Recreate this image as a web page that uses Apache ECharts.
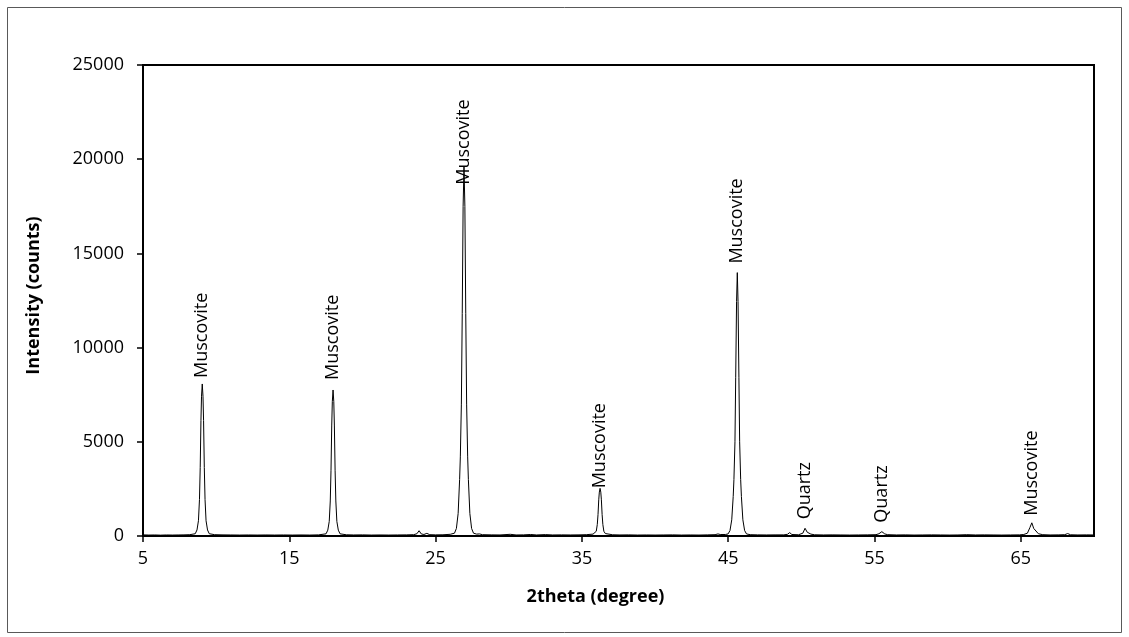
<!DOCTYPE html>
<html>
<head>
<meta charset="utf-8">
<title>XRD pattern</title>
<script src="https://cdn.jsdelivr.net/npm/echarts@6/dist/echarts.min.js"></script>
<style>
  html, body { margin: 0; padding: 0; background: #fff; }
  #chart { width: 1129px; height: 637px; }
</style>
</head>
<body>
<div id="chart"></div>
<script>
// Diffraction pattern: [2theta (degree), intensity (counts)]
const pattern = [
  [5.0, 60], [5.4, 50], [5.8, 55], [6.2, 45], [6.6, 55], [7.0, 50], [7.4, 55], [7.8, 60], [8.2, 70],
  [8.57, 120], [8.69, 320], [8.79, 810], [8.86, 1940], [8.91, 3630], [8.96, 6130], [9.0, 7420], [9.05, 8070],
  [9.1, 7420], [9.14, 6130], [9.19, 3630], [9.24, 1940], [9.31, 810], [9.41, 320], [9.53, 120], [9.9, 70],
  [10.4, 60], [11.0, 55], [11.6, 50], [12.2, 55], [12.8, 50], [13.4, 55], [14.0, 50], [14.6, 55],
  [15.2, 50], [15.8, 55], [16.4, 50], [17.0, 60],
  [17.51, 115], [17.63, 310], [17.73, 775], [17.8, 1860], [17.85, 3490], [17.9, 5890], [17.94, 7130], [17.99, 7750],
  [18.04, 7130], [18.08, 5890], [18.13, 3490], [18.18, 1860], [18.25, 775], [18.35, 310], [18.47, 115], [18.9, 65],
  [19.4, 55], [20.0, 60], [20.6, 50], [21.2, 55], [21.8, 50], [22.4, 55], [23.0, 60], [23.5, 70],
  [23.72, 120], [23.87, 280], [24.02, 110], [24.2, 80], [24.4, 140], [24.6, 70], [25.0, 60],
  [25.5, 65], [26.0, 90],
  [26.29, 150], [26.42, 400], [26.54, 1200], [26.64, 3000], [26.69, 4200], [26.76, 7000], [26.82, 11800], [26.88, 17500],
  [26.94, 19600],
  [27.0, 17500], [27.06, 11800], [27.12, 7000], [27.19, 4200], [27.24, 3000], [27.34, 1200], [27.46, 400], [27.59, 150],
  [27.8, 100], [28.0, 110], [28.2, 70],
  [28.8, 60], [29.4, 55], [30.1, 90], [30.5, 55], [31.0, 60], [31.5, 80], [31.9, 55], [32.5, 75],
  [33.0, 55], [33.6, 60], [34.2, 55], [34.8, 60], [35.3, 70],
  [35.76, 100], [35.88, 130], [35.98, 250], [36.05, 610], [36.1, 1140], [36.15, 1920], [36.19, 2330], [36.24, 2530],
  [36.29, 2330], [36.33, 1920], [36.38, 1140], [36.43, 610], [36.5, 250], [36.6, 130], [36.72, 90], [37.1, 65],
  [37.6, 55], [38.2, 60], [38.8, 50], [39.4, 55], [40.0, 50], [40.6, 55], [41.2, 60], [41.8, 50],
  [42.4, 55], [43.0, 50], [43.6, 60], [44.1, 70], [44.3, 110], [44.45, 80], [44.8, 80],
  [44.99, 110], [45.12, 290], [45.24, 860], [45.34, 2100], [45.39, 3000], [45.46, 5000], [45.51, 8400], [45.57, 12450],
  [45.62, 13980],
  [45.67, 12450], [45.73, 8400], [45.78, 5000], [45.85, 3000], [45.9, 2100], [46.0, 860], [46.12, 290], [46.25, 110],
  [46.5, 70], [47.0, 60], [47.6, 55], [48.2, 60], [48.8, 60], [49.05, 90], [49.2, 180], [49.35, 80], [49.8, 65],
  [50.1, 150], [50.25, 410], [50.4, 200], [50.5, 230], [50.65, 100], [50.9, 65],
  [51.5, 55], [52.1, 60], [52.7, 55], [53.3, 50], [53.9, 55], [54.5, 60], [55.1, 70],
  [55.3, 120], [55.5, 230], [55.7, 110], [55.9, 70],
  [56.5, 55], [57.1, 60], [57.7, 50], [58.3, 55], [58.9, 60], [59.5, 55], [60.1, 50], [60.7, 55],
  [61.3, 70], [61.9, 55], [62.5, 60], [63.1, 55], [63.7, 50], [64.3, 55], [64.9, 60], [65.2, 80],
  [65.45, 150], [65.62, 450], [65.75, 700], [65.88, 400], [66.0, 300], [66.2, 120], [66.5, 70],
  [67.0, 55], [67.6, 60], [68.0, 70], [68.2, 130], [68.4, 65], [68.9, 55], [69.5, 60], [70.0, 55]
];

// Phase identification at the peak maxima
const peakPositions = [9.05, 17.99, 26.94, 36.24, 45.62, 50.25, 55.5, 65.75];
const peakPhases = ['Muscovite', 'Muscovite', 'Muscovite', 'Muscovite', 'Muscovite', 'Quartz', 'Quartz', 'Muscovite'];

// Axis ticks
const xTicks = [5, 15, 25, 35, 45, 55, 65];
const yTicks = [0, 5000, 10000, 15000, 20000, 25000];

const FONT = 'Open Sans';

// Gap between each phase label and its peak (px); the tallest peak's label overlaps its tip
const labelGaps = [6, 10, -18, 0, 9, 9, 9, 7];

const peakPoints = peakPositions.map((x, i) => {
  const hit = pattern.find(p => p[0] === x);
  return {
    value: [x, hit ? hit[1] : 0],
    name: peakPhases[i],
    label: { distance: labelGaps[i] }
  };
});

const chart = echarts.init(document.getElementById('chart'), null, { renderer: 'canvas' });

chart.setOption({
  animation: false,
  backgroundColor: '#fff',
  graphic: [{
    type: 'rect',
    shape: { x: 7.5, y: 7.5, width: 1114, height: 625 },
    style: { fill: 'none', stroke: '#595959', lineWidth: 1 },
    silent: true
  }],
  grid: {
    left: 143, top: 65, right: 35, bottom: 101,
    show: true, borderColor: '#000', borderWidth: 2, backgroundColor: 'transparent'
  },
  xAxis: {
    type: 'value',
    min: 5, max: 70,
    name: '2theta (degree)',
    nameLocation: 'middle',
    nameGap: 52,
    nameTextStyle: { fontFamily: FONT, fontSize: 18, fontWeight: 'bold', color: '#000', padding: [0, 46, 0, 0] },
    axisLine: { show: true, onZero: false, lineStyle: { color: '#000', width: 2 } },
    axisTick: { show: true, customValues: xTicks, length: 6, lineStyle: { color: '#000', width: 1.5 } },
    axisLabel: { customValues: xTicks, margin: 14, fontFamily: FONT, fontSize: 18, color: '#000' },
    splitLine: { show: false }
  },
  yAxis: {
    type: 'value',
    min: 0, max: 25000, interval: 5000,
    name: 'Intensity (counts)',
    nameLocation: 'middle',
    nameGap: 100,
    nameRotate: 90,
    nameTextStyle: { fontFamily: FONT, fontSize: 18, fontWeight: 'bold', color: '#000', padding: [0, 0, 0, 10] },
    axisLine: { show: true, lineStyle: { color: '#000', width: 2 } },
    axisTick: { show: true, customValues: yTicks, length: 6, lineStyle: { color: '#000', width: 1.5 } },
    axisLabel: {
      customValues: yTicks, margin: 19, fontFamily: FONT, fontSize: 18, color: '#000',
      formatter: v => String(v)
    },
    splitLine: { show: false }
  },
  series: [
    {
      type: 'line',
      data: pattern,
      showSymbol: false,
      symbol: 'none',
      lineStyle: { color: '#000', width: 1 },
      z: 3
    },
    {
      type: 'scatter',
      data: peakPoints,
      symbol: 'circle',
      symbolSize: 0,
      itemStyle: { color: '#000' },
      label: {
        show: true,
        formatter: '{b}',
        position: 'top',
        rotate: 90,
        align: 'left',
        verticalAlign: 'middle',
        fontFamily: FONT,
        fontSize: 18,
        color: '#000',
        opacity: 1
      },
      z: 4
    }
  ]
});
</script>
</body>
</html>
